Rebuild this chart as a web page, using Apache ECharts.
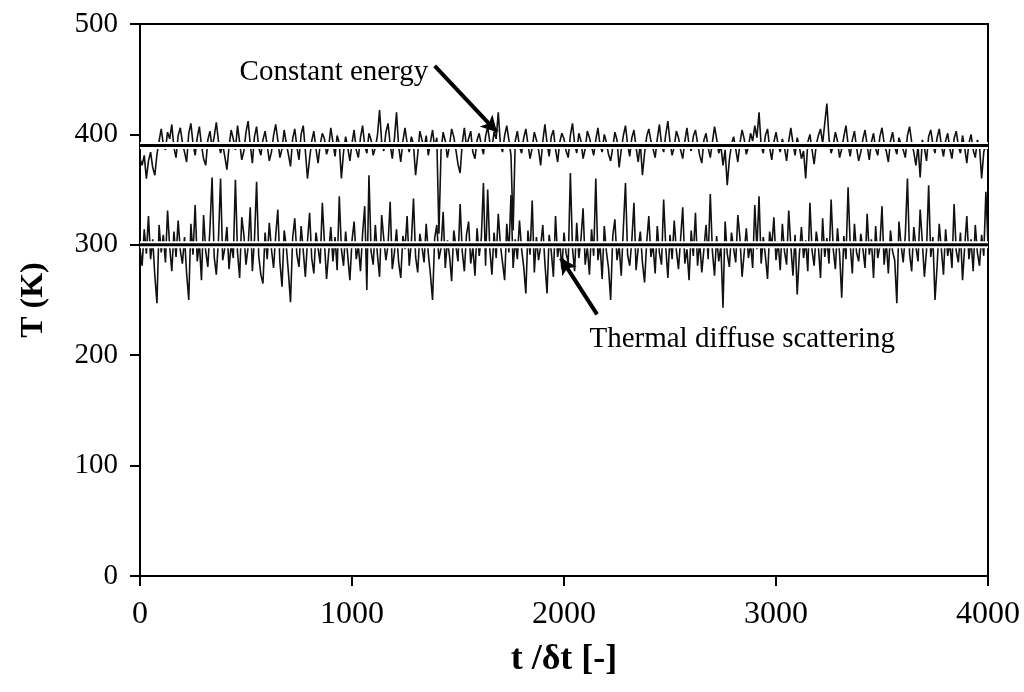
<!DOCTYPE html>
<html>
<head>
<meta charset="utf-8">
<script src="https://cdn.jsdelivr.net/npm/echarts@6/dist/echarts.min.js"></script>
<style>
  html, body { margin: 0; padding: 0; background: #fff; }
  #chart { width: 1024px; height: 692px; }
</style>
</head>
<body>
<div id="chart"></div>
<script>
// sampling step of the traces (t / dt)
var dt = 10;

// constant energy run, T (K), one value every 10 steps from t = 0 to 4000
var ceTemp = [
  378, 372, 381, 360, 376, 384, 370, 363, 382, 394, 405, 391, 386, 402, 396, 409, 388, 379, 399, 406,
  393, 384, 375, 401, 410, 392, 381, 397, 407, 390, 378, 372, 395, 403, 388, 398, 411, 394, 383, 391,
  380, 368, 389, 404, 396, 386, 408, 393, 377, 385, 402, 412, 391, 374, 398, 407, 388, 381, 395, 403,
  390, 376, 384, 399, 409, 395, 379, 387, 404, 392, 382, 371, 396, 405, 389, 377, 400, 408, 385, 360,
  378, 394, 403, 387, 374, 391, 401, 396, 382, 389, 406, 393, 380, 399, 392, 360, 384, 398, 388, 376,
  392, 404, 386, 379, 397, 408, 390, 383, 401, 395, 381, 388, 399, 422, 393, 385, 402, 410, 391, 378,
  396, 420, 389, 375, 394, 406, 392, 384, 398, 391, 363, 382, 403, 395, 387, 399, 381, 393, 404, 388,
  397, 310, 385, 402, 394, 379, 390, 405, 398, 386, 373, 365, 392, 406, 389, 396, 403, 384, 378, 395,
  401, 390, 382, 398, 407, 393, 387, 402, 396, 420, 391, 384, 399, 408, 395, 381, 313, 394, 403, 389,
  383, 397, 405, 391, 378, 388, 402, 395, 386, 372, 394, 409, 392, 380, 398, 404, 387, 375, 393, 401,
  396, 385, 379, 399, 410, 392, 383, 401, 394, 378, 387, 403, 397, 389, 381, 395, 406, 390, 384, 400,
  393, 382, 376, 388, 402, 395, 370, 386, 399, 408, 391, 380, 397, 404, 388, 375, 392, 363, 383, 398,
  405, 394, 387, 379, 396, 409, 391, 384, 400, 412, 393, 381, 389, 403, 397, 386, 378, 394, 406, 390,
  385, 398, 404, 392, 381, 374, 395, 401, 388, 379, 393, 407, 396, 383, 390, 372, 386, 354, 377, 391,
  398, 387, 375, 392, 404, 396, 382, 389, 401, 394, 408, 397, 420, 390, 383, 399, 405, 388, 377, 393,
  402, 391, 384, 396, 388, 376, 394, 406, 392, 381, 397, 389, 378, 385, 360, 393, 400, 386, 373, 391,
  399, 405, 392, 410, 428, 396, 383, 390, 402, 394, 379, 387, 398, 408, 391, 380, 395, 403, 388, 376,
  384, 396, 404, 390, 377, 393, 401, 387, 381, 398, 406, 392, 385, 375, 394, 402, 389, 382, 397, 391,
  386, 379, 399, 407, 393, 384, 372, 390, 361, 395, 388, 376, 398, 404, 391, 383, 397, 405, 390, 380,
  394, 401, 387, 378, 396, 403, 390, 383, 399, 388, 374, 392, 400, 386, 379, 395, 389, 360, 384, 391,
  385
];

// thermal diffuse scattering run, T (K), same sampling
var tdsTemp = [
  296, 281, 314, 292, 326, 287, 305, 272, 247, 318, 293, 309, 284, 331, 298, 276, 312, 289, 322, 295,
  283, 307, 274, 250, 319, 291, 336, 285, 302, 268, 327, 294, 280, 315, 361, 289, 273, 304, 360, 286,
  297, 316, 278, 301, 288, 359, 293, 270, 325, 309, 282, 298, 334, 276, 305, 357, 290, 273, 265, 311,
  287, 320, 296, 279, 308, 332, 284, 262, 313, 299, 275, 248, 306, 324, 291, 280, 317, 295, 271, 303,
  329, 288, 274, 311, 297, 283, 338, 302, 269, 293, 316, 285, 307, 277, 344, 296, 281, 312, 290, 268,
  304, 321, 287, 299, 276, 310, 335, 259, 363, 294, 282, 318, 291, 271, 327, 305, 286, 300, 339, 278,
  293, 314, 284, 270, 308, 296, 326, 281, 302, 342, 289, 275, 310, 298, 284, 319, 292, 273, 250, 306,
  318, 287, 297, 330, 279, 304, 290, 267, 313, 299, 285, 337, 294, 276, 309, 321, 283, 298, 272, 315,
  290, 306, 356, 281, 350, 296, 273, 311, 288, 328, 300, 284, 268, 319, 293, 345, 279, 305, 287, 322,
  296, 280, 256, 313, 291, 340, 275, 307, 286, 299, 318, 283, 256, 309, 294, 271, 326, 289, 303, 278,
  311, 292, 284, 365, 297, 276, 320, 288, 305, 333, 282, 298, 273, 314, 290, 360, 286, 301, 269, 317,
  294, 279, 250, 308, 323, 286, 299, 272, 315, 356, 291, 281, 304, 338, 277, 297, 312, 284, 266, 302,
  326, 289, 300, 274, 317, 293, 282, 341, 298, 270, 309, 287, 322, 295, 278, 305, 334, 283, 296, 268,
  313, 290, 329, 281, 303, 275, 296, 318, 287, 346, 294, 272, 308, 285, 299, 243, 321, 292, 280, 311,
  297, 284, 327, 306, 271, 293, 315, 288, 301, 279, 336, 296, 344, 283, 307, 290, 269, 312, 298, 325,
  286, 303, 277, 319, 294, 282, 331, 299, 272, 309, 255, 291, 316, 288, 304, 276, 338, 295, 281, 312,
  298, 270, 324, 289, 306, 283, 341, 296, 278, 315, 292, 252, 308, 287, 352, 300, 274, 319, 293, 285,
  310, 296, 279, 328, 291, 305, 270, 317, 288, 299, 335, 282, 303, 274, 313, 294, 286, 247, 321, 300,
  284, 309, 360, 292, 276, 316, 298, 285, 332, 303, 271, 295, 354, 289, 307, 250, 281, 319, 296, 273,
  314, 290, 302, 279, 337, 295, 284, 311, 268, 298, 326, 287, 305, 276, 318, 293, 281, 309, 290, 348,
  301
];

// mean temperatures drawn as straight lines
var ceMean = 390;
var tdsMean = 300;

var tRange = [0, 4000];
var tLabels = ['0', '1000', '2000', '3000', '4000'];
var tempLabels = ['0', '100', '200', '300', '400', '500'];

function pairs(vals) {
  return vals.map(function (v, i) { return [i * dt, v]; });
}
function flat(v) {
  return [[tRange[0], v], [tRange[1], v]];
}

var serif = "'Liberation Serif', 'Times New Roman', serif";
var chart = echarts.init(document.getElementById('chart'));

var traceStyle = { color: '#111', width: 1.6 };

var option = {
  animation: false,
  backgroundColor: '#fff',
  grid: {
    left: 140, right: 36, top: 24, bottom: 116,
    show: true, borderColor: '#000', borderWidth: 2
  },
  xAxis: {
    type: 'value',
    min: tRange[0], max: tRange[1], interval: 1000,
    name: 't /\u03b4t [-]',
    nameLocation: 'middle',
    nameGap: 66,
    nameTextStyle: { fontFamily: serif, fontWeight: 'bold', fontSize: 36, color: '#000' },
    axisLine: { lineStyle: { color: '#000', width: 2 } },
    axisTick: { inside: false, length: 10, lineStyle: { color: '#000', width: 2 } },
    axisLabel: {
      margin: 23, fontFamily: serif, fontSize: 32, color: '#000',
      formatter: function (v) { return tLabels[v / 1000]; }
    },
    splitLine: { show: false }
  },
  yAxis: {
    type: 'value',
    min: 0, max: 500, interval: 100,
    name: 'T (K)',
    nameLocation: 'middle',
    nameGap: 90,
    nameRotate: 90,
    nameTextStyle: { fontFamily: serif, fontWeight: 'bold', fontSize: 32, color: '#000' },
    axisLine: { lineStyle: { color: '#000', width: 2 } },
    axisTick: { inside: false, length: 10, lineStyle: { color: '#000', width: 2 } },
    axisLabel: {
      margin: 22, fontFamily: serif, fontSize: 29, color: '#000',
      formatter: function (v) { return tempLabels[v / 100]; }
    },
    splitLine: { show: false }
  },
  series: [
    {
      name: 'Constant energy', type: 'line', data: pairs(ceTemp),
      showSymbol: false, lineStyle: traceStyle, z: 2
    },
    {
      name: 'Thermal diffuse scattering', type: 'line', data: pairs(tdsTemp),
      showSymbol: false, lineStyle: traceStyle, z: 2
    },
    // white halo under the mean lines
    {
      type: 'line', data: flat(ceMean), showSymbol: false,
      lineStyle: { color: '#fff', width: 7 }, z: 3
    },
    {
      type: 'line', data: flat(tdsMean), showSymbol: false,
      lineStyle: { color: '#fff', width: 7 }, z: 3
    },
    {
      type: 'line', data: flat(ceMean), showSymbol: false,
      lineStyle: { color: '#000', width: 3 }, z: 4
    },
    {
      type: 'line', data: flat(tdsMean), showSymbol: false,
      lineStyle: { color: '#000', width: 3 }, z: 4,
      // annotation arrows
      markLine: {
        silent: true,
        symbol: ['none', 'arrow'],
        symbolSize: [13, 16],
        label: { show: false },
        lineStyle: { color: '#000', width: 4, type: 'solid' },
        data: [
          [{ coord: [1390, 462] }, { coord: [1684, 402] }],
          [{ coord: [2156, 237] }, { coord: [1985, 288] }]
        ]
      }
    }
  ]
};
chart.setOption(option);

// annotation texts placed in data coordinates
var ceLabelAt = chart.convertToPixel({ gridIndex: 0 }, [1360, 456]);
var tdsLabelAt = chart.convertToPixel({ gridIndex: 0 }, [2120, 214]);
chart.setOption({
  graphic: [
    {
      type: 'text', x: ceLabelAt[0], y: ceLabelAt[1], z: 10,
      style: { text: 'Constant energy', font: '29px ' + serif, fill: '#000',
               textAlign: 'right', textVerticalAlign: 'middle' }
    },
    {
      type: 'text', x: tdsLabelAt[0], y: tdsLabelAt[1], z: 10,
      style: { text: 'Thermal diffuse scattering', font: '29px ' + serif, fill: '#000',
               textAlign: 'left', textVerticalAlign: 'middle' }
    }
  ]
});
</script>
</body>
</html>
